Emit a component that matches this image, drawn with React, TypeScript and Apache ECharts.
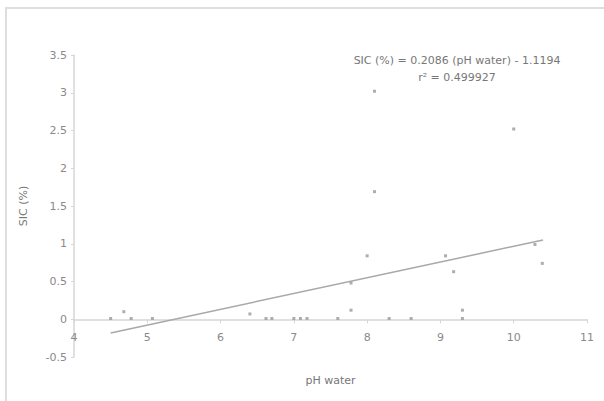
import React, { useEffect, useRef } from "react";
import * as echarts from "echarts";

// pH water (x) and SIC % (y)
const phWater = [8.1, 10.0, 8.1, 8.0, 9.07, 9.18, 10.29, 10.39, 7.78, 7.78, 9.3, 4.68, 6.4,
  4.5, 4.78, 5.07, 6.62, 6.7, 7.0, 7.09, 7.18, 7.6, 8.3, 8.6, 9.3];
const sicPct = [3.02, 2.52, 1.69, 0.84, 0.84, 0.63, 0.99, 0.74, 0.48, 0.12, 0.12, 0.1, 0.07,
  0.01, 0.01, 0.01, 0.01, 0.01, 0.01, 0.01, 0.01, 0.01, 0.01, 0.01, 0.01];

// linear fit reported on the chart
const slope = 0.2086;
const intercept = -1.1194;
const trendX = [4.5, 10.4];

const yMin = -0.5;
const yMax = 3.5;

const equationText = "SIC (%) = 0.2086 (pH water) - 1.1194";
const r2Text = "r² = 0.499927";

export default function App() {
  const ref = useRef<HTMLDivElement>(null);
  useEffect(() => {
    if (!ref.current) return;
    const chart = echarts.init(ref.current, null, { renderer: "svg" });
    const font = "'DejaVu Sans', Verdana, sans-serif";
    const axisColor = "#d6d6d6";
    const labelColor = "#8a8a8a";
    const gridTop = 55;
    const gridBottom = 44;
    const plotH = 401 - gridTop - gridBottom;
    const zeroOffset = -plotH * (0 - yMin) / (yMax - yMin);
    chart.setOption({
      animation: false,
      backgroundColor: "#ffffff",
      grid: { left: 74, right: 17, top: gridTop, bottom: gridBottom, outerBoundsMode: "none", containLabel: false },
      xAxis: {
        type: "value",
        min: 4,
        max: 11,
        interval: 1,
        offset: zeroOffset,
        name: "pH water",
        nameLocation: "middle",
        nameGap: 56,
        nameTextStyle: { color: "#777", fontSize: 11, fontFamily: font },
        axisLine: { onZero: false, lineStyle: { color: axisColor, width: 1.5 } },
        axisTick: { show: true, length: 4, lineStyle: { color: axisColor } },
        axisLabel: { color: labelColor, fontSize: 11, fontFamily: font, margin: 13 },
        splitLine: { show: false },
      },
      yAxis: {
        type: "value",
        min: yMin,
        max: yMax,
        interval: 0.5,
        name: "SIC (%)",
        nameLocation: "middle",
        nameGap: 45,
        nameRotate: 90,
        nameTextStyle: { color: "#777", fontSize: 11, fontFamily: font },
        axisLine: { show: true, onZero: false, lineStyle: { color: axisColor, width: 1.5 } },
        axisTick: { show: true, length: 3, lineStyle: { color: axisColor } },
        axisLabel: { color: labelColor, fontSize: 11, fontFamily: font, margin: 7 },
        splitLine: { show: false },
      },
      series: [
        {
          type: "line",
          data: trendX.map((x) => [x, slope * x + intercept]),
          symbol: "none",
          lineStyle: { color: "#a8a8a8", width: 1.5 },
          z: 2,
        },
        {
          type: "scatter",
          data: phWater.map((x, i) => [x, sicPct[i]]),
          symbol: "rect",
          symbolSize: 3,
          itemStyle: { color: "#999" },
          z: 3,
        },
      ],
      graphic: [
        {
          type: "rect",
          shape: { x: 6, y: 8, width: 640, height: 440 },
          style: { fill: "none", stroke: "#dedede", lineWidth: 2 },
          silent: true,
        },
        {
          type: "text",
          x: 457,
          y: 60,
          style: {
            text: equationText,
            fill: "#777",
            fontSize: 11,
            fontFamily: font,
            align: "center",
            verticalAlign: "middle",
          },
        },
        {
          type: "text",
          x: 457,
          y: 77,
          style: {
            text: r2Text,
            fill: "#777",
            fontSize: 11,
            fontFamily: font,
            align: "center",
            verticalAlign: "middle",
          },
        },
      ],
    });
    return () => chart.dispose();
  }, []);
  return (
    <div
      ref={ref}
      style={{ position: "absolute", left: 0, top: 0, width: 604, height: 401 }}
    />
  );
}
